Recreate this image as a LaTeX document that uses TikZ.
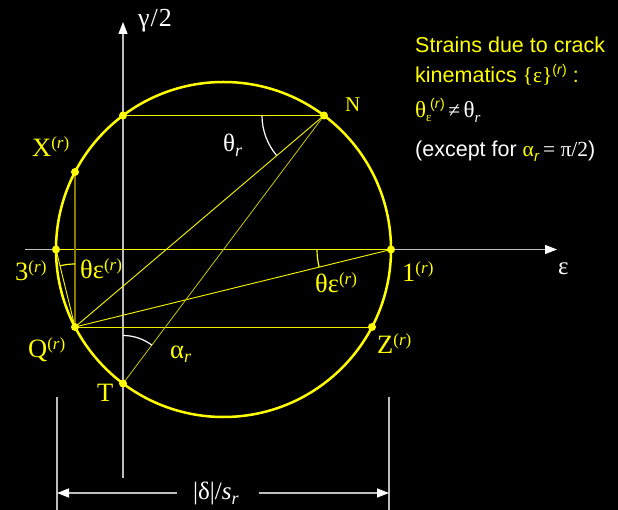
\documentclass[tikz,border=0pt]{standalone}
\usepackage{fontspec}
\setmainfont{Liberation Serif}
\newfontfamily\sansf{Liberation Sans}
\usetikzlibrary{arrows.meta}
\definecolor{yel}{HTML}{FFFF00}
\definecolor{chd}{HTML}{F0F000}
\definecolor{olv}{HTML}{8C7D00}
\definecolor{tng}{HTML}{C8C800}
\definecolor{axg}{HTML}{BDBDBD}
\newcommand\fsz[1]{\fontsize{#1}{#1}\selectfont}
\newcommand\supr{\raisebox{8pt}{\fsz{17}(\textit{r})}}
\newcommand\subr{\raisebox{-5pt}{\fsz{18}\textit{r}}}
\begin{document}
\begin{tikzpicture}[x=1pt,y=-1pt,
  lbl/.style={anchor=base west,inner sep=0pt,text=yel,font=\fsz{26.5}},
  wlbl/.style={anchor=base west,inner sep=0pt,text=white,font=\fsz{25}},
  rtxt/.style={anchor=base west,inner sep=0pt,text=yel,font=\sansf\fsz{21.5}},
  dot/.style={circle,fill=yel,inner sep=0pt,minimum size=8pt},
  chord/.style={chd,line width=0.95pt},
  axisline/.style={axg,line width=1.2pt},
  dimline/.style={axg,line width=1.5pt},
  tipw/.style={-{Triangle[length=12pt,width=9pt,color=white]}},
]
\fill[black] (0,0) rectangle (618,510);
\useasboundingbox (0,0) rectangle (618,510);
% points
\coordinate (C) at (223.5,249.5);
\coordinate (P3) at (56,249.5);
\coordinate (P1) at (391,249.5);
\coordinate (A) at (123,115.5);
\coordinate (N) at (324,115.5);
\coordinate (T) at (123,383.5);
\coordinate (X) at (75,172);
\coordinate (Q) at (75,327);
\coordinate (Z) at (372,327);
% axes
\coordinate (exs) at (25,249.5); \coordinate (exe) at (557,249.5);
\coordinate (gys) at (123,478); \coordinate (gye) at (123,22);
\draw[axisline,tipw] (exs) -- (exe);
\draw[axisline,tipw] (gys) -- (gye);
% chords
\draw[yel,line width=1.2pt] (P3) -- (P1);
\draw[chord] (A) -- (N);
\draw[chord] (Q) -- (Z);
\draw[chord] (Q) -- (N);
\draw[chord] (Q) -- (P1);
\draw[chord] (Q) -- (P3);
\draw[olv,line width=1.3pt] (X) -- (Q);
\draw[tng,line width=0.8pt] (T) -- (N);
% circle
\draw[yel,line width=2.5pt] (C) circle[radius=167.5pt];
% angle arcs
\draw[white,line width=1.2pt] ([shift={(180:62pt)}]N) arc[start angle=180,end angle=220.3,radius=62pt];
\draw[yel,line width=1.2pt] ([shift={(180:74pt)}]P1) arc[start angle=180,end angle=193.8,radius=74pt];
\draw[yel,line width=1.2pt] ([shift={(90:63pt)}]Q) arc[start angle=90,end angle=103.8,radius=63pt];
\draw[white,line width=1.2pt] ([shift={(90:48pt)}]T) arc[start angle=90,end angle=53.1,radius=48pt];
% dots
\foreach \p in {P3,P1,A,N,T,X,Q,Z} \node[dot] at (\p) {};
% dimension
\coordinate (dl1) at (57,397); \coordinate (dl2) at (57,510);
\coordinate (dr1) at (389,397); \coordinate (dr2) at (389,510);
\coordinate (al) at (57,493); \coordinate (ar) at (389,493);
\coordinate (gl) at (177,493); \coordinate (gr) at (259,493);
\draw[dimline] (dl1) -- (dl2);
\draw[dimline] (dr1) -- (dr2);
\draw[dimline,tipw] (gl) -- (al);
\draw[dimline,tipw] (gr) -- (ar);
\node[wlbl] (dlab) at (193,499) {|δ|/\textit{s}\subr};
% labels
\node[wlbl,font=\fsz{26}] (lg) at (138,27) {γ\kern1pt/\kern1pt2};
\node[lbl] (lX) at (32,157) {X\supr};
\node[lbl,font=\fsz{21}] (lN) at (345,112) {N};
\node[wlbl,font=\fsz{25}] (lth) at (223,152) {θ\subr};
\node[lbl] (l3) at (15,281) {3\supr};
\node[lbl] (lte1) at (80,279) {θε\supr};
\node[lbl] (l1) at (402,282) {1\supr};
\node[lbl] (lte2) at (315,293) {θε\supr};
\node[wlbl] (leps) at (558,275) {ε};
\node[lbl] (lQ) at (28,357) {Q\supr};
\node[lbl] (lZ) at (377,353) {Z\supr};
\node[lbl] (lal) at (170,358) {α\subr};
\node[lbl] (lT) at (97,401) {T};
% right text
\node[rtxt] (t1) at (415,53) {Strains due to crack};
\node[rtxt] (t2) at (415,83) {kinematics {\rmfamily\{ε\}}\raisebox{8pt}{\fsz{14}(\textit{r})} :};
\node[rtxt] (t3) at (415,118) {{\rmfamily\fsz{23}θ}\rlap{\raisebox{-4pt}{\rmfamily\fsz{13}ε}}\kern4pt\raisebox{9pt}{\fsz{14}(\textit{r})}\textcolor{white}{\rmfamily\,≠\,{\fsz{23}θ}\raisebox{-5pt}{\fsz{15}\textit{r}}}};
\node[rtxt,text=white] (t4) at (415,157) {(except for \textcolor{yel}{{\rmfamily α}\raisebox{-5pt}{\fsz{15}\textit{r}}}\,{\rmfamily = π/2})};
\end{tikzpicture}
\end{document}
